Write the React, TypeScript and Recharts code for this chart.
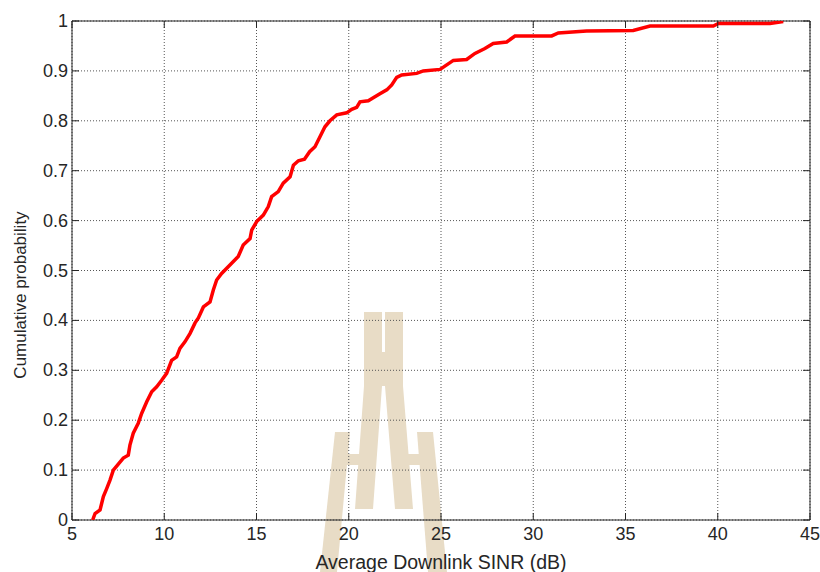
import React from "react";
import {
  LineChart,
  Line,
  XAxis,
  YAxis,
  CartesianGrid,
  ReferenceArea,
  Label,
} from "recharts";

// Empirical CDF of average downlink SINR
const sinrDb = [
  6.12, 6.25, 6.52, 6.7, 6.88, 7.06, 7.24, 7.51, 7.78, 8.05, 8.14, 8.32, 8.59,
  8.78, 9.05, 9.32, 9.59, 9.86, 10.13, 10.4, 10.67, 10.85, 11.12, 11.4, 11.67,
  11.85, 12.12, 12.48, 12.66, 12.84, 13.11, 13.56, 14.01, 14.28, 14.65, 14.74,
  15.01, 15.37, 15.64, 15.82, 16.18, 16.45, 16.82, 17.0, 17.27, 17.6, 17.88,
  18.17, 18.44, 18.71, 18.98, 19.35, 19.89, 20.16, 20.43, 20.61, 21.06, 21.33,
  21.69, 22.06, 22.33, 22.6, 22.87, 23.68, 24.04, 24.95, 25.31, 25.67, 26.39,
  26.84, 27.38, 27.83, 28.56, 29.01, 31.0, 31.36, 32.89, 35.42, 36.33, 39.76,
  40.03, 42.83, 43.55,
];
const cumProb = [
  0.0, 0.013, 0.02, 0.047, 0.063, 0.08, 0.1, 0.112, 0.124, 0.13, 0.15, 0.174,
  0.194, 0.214, 0.237, 0.257, 0.267, 0.28, 0.294, 0.32, 0.327, 0.344, 0.357,
  0.374, 0.395, 0.405, 0.427, 0.437, 0.461, 0.481, 0.494, 0.511, 0.528, 0.551,
  0.564, 0.581, 0.598, 0.611, 0.628, 0.648, 0.658, 0.675, 0.688, 0.711, 0.72,
  0.723, 0.738, 0.748, 0.768, 0.788, 0.8, 0.812, 0.816, 0.823, 0.827, 0.838,
  0.84, 0.846, 0.854, 0.862, 0.872, 0.887, 0.892, 0.895, 0.9, 0.903, 0.912,
  0.921, 0.923, 0.935, 0.945, 0.955, 0.958, 0.97, 0.97, 0.976, 0.98, 0.981,
  0.99, 0.99, 0.995, 0.995, 0.999,
];
const xTicks = [5, 10, 15, 20, 25, 30, 35, 40, 45];
const yTicks = [0, 0.1, 0.2, 0.3, 0.4, 0.5, 0.6, 0.7, 0.8, 0.9, 1];

const data = sinrDb.map((x, i) => ({ x, p: cumProb[i] }));

const W = 820;
const H = 572;
const MARGIN = { top: 21, right: 10, bottom: 0, left: 0 };
const PLOT_TOP = MARGIN.top;
const PLOT_RIGHT = W - MARGIN.right;
const INK = "#262626";
const FONT = "'Liberation Sans', Arial, sans-serif";
const TICK_LEN = 7;

// matlab-style ticks: pointing inward, mirrored on the opposite side
const XTick = ({ x, y, payload }: any) => (
  <g>
    <line x1={x} x2={x} y1={y} y2={y - TICK_LEN} stroke={INK} />
    <line x1={x} x2={x} y1={PLOT_TOP} y2={PLOT_TOP + TICK_LEN} stroke={INK} />
    <text x={x} y={y + 19.5} textAnchor="middle" fontSize={18} fontFamily={FONT} fill={INK}>
      {payload.value}
    </text>
  </g>
);

const YTick = ({ x, y, payload }: any) => (
  <g>
    <line x1={x} x2={x + TICK_LEN} y1={y} y2={y} stroke={INK} />
    <line x1={PLOT_RIGHT - TICK_LEN} x2={PLOT_RIGHT} y1={y} y2={y} stroke={INK} />
    <text
      x={x - 4}
      y={y}
      textAnchor="end"
      dominantBaseline="central"
      fontSize={18}
      fontFamily={FONT}
      fill={INK}
    >
      {payload.value}
    </text>
  </g>
);

// faded logo sitting behind the plot
const Watermark = () => (
  <svg width={W} height={H} style={{ position: "absolute", left: 0, top: 0 }}>
    <g fill="#e8dcc6">
      <polygon points="364,312 382,312 382,352 385,352 385,312 403,312 403,386 413,509 395,509 385,386 382,386 373,509 355,509 364,386" />
      <polygon points="335,432 350,432 337,572 320,572" />
      <polygon points="417,432 433,432 447,572 428,572" />
      <rect x={347} y={454} width={13} height={11} />
      <rect x={408} y={454} width={12} height={11} />
    </g>
  </svg>
);

export default function App() {
  return (
    <div style={{ position: "absolute", left: 0, top: 0, width: W, height: H, background: "#fff" }}>
      <Watermark />
      <div style={{ position: "absolute", left: 0, top: 0 }}>
        <LineChart width={W} height={H} data={data} margin={MARGIN}>
          <CartesianGrid stroke="#555" strokeDasharray="1 2" />
          <XAxis
            dataKey="x"
            type="number"
            domain={[5, 45]}
            ticks={xTicks}
            allowDataOverflow
            height={52}
            axisLine={false}
            tickLine={false}
            tickSize={0}
            tickMargin={0}
            tick={<XTick />}
          >
            <Label
              content={() => (
                <text x={441} y={569} textAnchor="middle" fontSize={19.5} fontFamily={FONT} fill={INK}>
                  Average Downlink SINR (dB)
                </text>
              )}
            />
          </XAxis>
          <YAxis
            type="number"
            domain={[0, 1]}
            ticks={yTicks}
            allowDataOverflow
            width={72}
            axisLine={false}
            tickLine={false}
            tickSize={0}
            tickMargin={0}
            tick={<YTick />}
          >
            <Label
              content={() => (
                <text
                  x={20}
                  y={295}
                  transform="rotate(-90 20 295)"
                  textAnchor="middle"
                  dominantBaseline="central"
                  fontSize={17}
                  fontFamily={FONT}
                  fill={INK}
                >
                  Cumulative probability
                </text>
              )}
            />
          </YAxis>
          <ReferenceArea x1={5} x2={45} y1={0} y2={1} fill="none" stroke={INK} strokeWidth={1} />
          <Line
            dataKey="p"
            type="linear"
            stroke="#ff0000"
            strokeWidth={3.5}
            dot={false}
            isAnimationActive={false}
          />
        </LineChart>
      </div>
    </div>
  );
}
